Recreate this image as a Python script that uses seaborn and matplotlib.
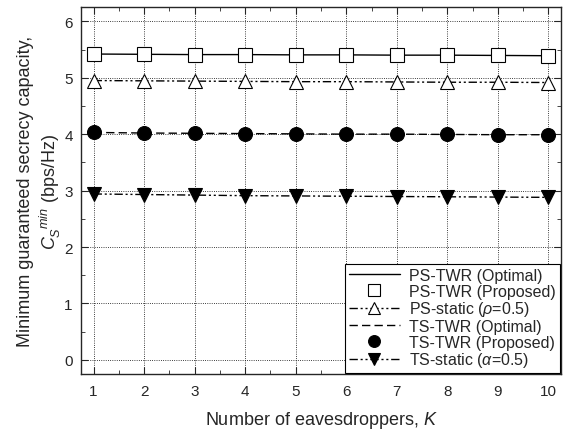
import numpy as np
import pandas as pd
import seaborn as sns
import matplotlib.pyplot as plt
from matplotlib.ticker import MultipleLocator

# number of eavesdroppers
k_vals = [1, 2, 3, 4, 5, 6, 7, 8, 9, 10]

# minimum guaranteed secrecy capacity (bps/Hz)
ps_opt = [5.42, 5.415, 5.41, 5.41, 5.405, 5.405, 5.40, 5.40, 5.395, 5.39]
ps_prop = [5.42, 5.415, 5.41, 5.41, 5.405, 5.405, 5.40, 5.40, 5.395, 5.39]
ps_static = [4.95, 4.945, 4.94, 4.935, 4.93, 4.93, 4.925, 4.92, 4.92, 4.915]
ts_opt = [4.03, 4.02, 4.015, 4.01, 4.005, 4.0, 4.0, 3.995, 3.99, 3.99]
ts_prop = [4.03, 4.02, 4.015, 4.01, 4.005, 4.0, 4.0, 3.995, 3.99, 3.99]
ts_static = [2.94, 2.93, 2.92, 2.91, 2.905, 2.90, 2.895, 2.89, 2.885, 2.88]

labels = ["PS-TWR (Optimal)", "PS-TWR (Proposed)", r"PS-static ($\rho$=0.5)",
          "TS-TWR (Optimal)", "TS-TWR (Proposed)", r"TS-static ($\alpha$=0.5)"]

sns.set_style("ticks")
plt.rcParams['font.family'] = ['Liberation Sans', 'DejaVu Sans']
plt.rcParams['mathtext.fontset'] = 'custom'
plt.rcParams['mathtext.rm'] = 'Liberation Sans'
plt.rcParams['mathtext.it'] = 'Liberation Sans:italic'

fig, ax = plt.subplots(figsize=(5.76, 4.31), dpi=100)

dashdotdot = (0, (6, 2, 1.5, 2, 1.5, 2))
styles = [
    dict(y=ps_opt, ls='-', marker=None, mfc='none'),
    dict(y=ps_prop, ls='none', marker='s', mfc='white'),
    dict(y=ps_static, ls=dashdotdot, marker='^', mfc='white'),
    dict(y=ts_opt, ls=(0, (6, 3)), marker=None, mfc='none'),
    dict(y=ts_prop, ls='none', marker='o', mfc='black'),
    dict(y=ts_static, ls=dashdotdot, marker='v', mfc='black'),
]

for lab, st in zip(labels, styles):
    df = pd.DataFrame({"K": k_vals, "C": st["y"]})
    sns.lineplot(data=df, x="K", y="C", ax=ax, color='black', linewidth=1.0,
                 linestyle=st["ls"], marker=st["marker"], markersize=10,
                 markerfacecolor=st["mfc"], markeredgecolor='black',
                 markeredgewidth=0.8, label=lab)

ax.set_xlim(0.75, 10.25)
ax.set_ylim(-0.25, 6.25)
ax.xaxis.set_major_locator(MultipleLocator(1))
ax.xaxis.set_minor_locator(MultipleLocator(0.5))
ax.yaxis.set_major_locator(MultipleLocator(1))
ax.yaxis.set_minor_locator(MultipleLocator(0.5))
ax.tick_params(which='both', direction='in', top=True, right=True, labelsize=11)
ax.tick_params(which='major', length=5)
ax.tick_params(which='minor', length=3)
ax.tick_params(axis='x', pad=7)
ax.tick_params(axis='y', pad=6)
ax.grid(True, which='major', linestyle=':', color='black', linewidth=0.6)
for s in ax.spines.values():
    s.set_linewidth(1.0)

ax.set_xlabel(r"Number of eavesdroppers, $\it{K}$", fontsize=13, labelpad=8)
ax.set_ylabel("Minimum guaranteed secrecy capacity,\n" + r"$C_S^{\ \ min}$ (bps/Hz)",
              fontsize=13, labelpad=1)

leg = ax.legend(loc='lower right', fontsize=11.5, frameon=True, fancybox=False,
                edgecolor='black', framealpha=1, handlelength=3.2,
                borderaxespad=0.05, labelspacing=0.04, handletextpad=0.6,
                borderpad=0.25, markerscale=0.85)
leg.get_frame().set_linewidth(0.8)

fig.subplots_adjust(left=0.1406, right=0.974, top=0.981, bottom=0.130)
fig.savefig("out.png", dpi=100)
